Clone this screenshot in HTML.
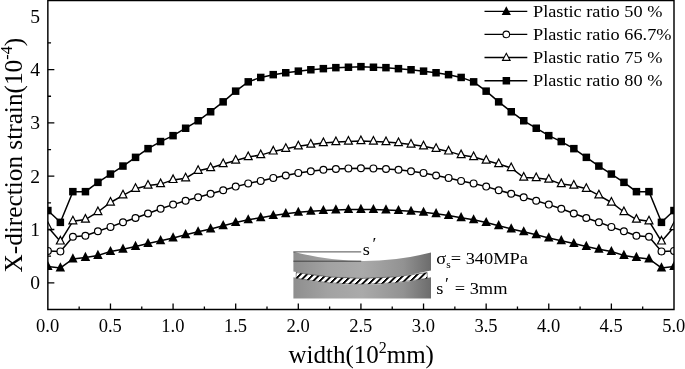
<!DOCTYPE html>
<html><head><meta charset="utf-8"><title>chart</title><style>html,body{margin:0;padding:0;background:#fff}body{width:685px;height:369px;overflow:hidden}</style></head><body>
<svg width="685" height="369" viewBox="0 0 685 369" style="display:block">
<defs><clipPath id="pc"><rect x="47.85" y="0" width="626.15" height="309.5"/></clipPath>
<linearGradient id="gd" x1="0" x2="1" y1="0" y2="0"><stop offset="0" stop-color="#8e8e8e"/><stop offset="0.25" stop-color="#a2a2a2"/><stop offset="0.5" stop-color="#aaaaaa"/><stop offset="0.8" stop-color="#929292"/><stop offset="1" stop-color="#6c6c6c"/></linearGradient>
<pattern id="ht" width="6.5" height="8" patternUnits="userSpaceOnUse" patternTransform="translate(1.5,0) skewX(-45)"><rect width="6.5" height="8" fill="#fff"/><rect width="2.6" height="8" fill="#000"/></pattern>
</defs>
<rect width="685" height="369" fill="#fff"/>
<path d="M293.4 251.7 Q362.3 269.8 431.0 252.6 L431.0 270.4 Q362.3 286.1 293.4 271.5 Z" fill="url(#gd)"/><path d="M293.4 277.3 Q362.3 292.4 431.0 277.3 L431.0 298.5 L293.4 298.5 Z" fill="url(#gd)"/><path d="M296.2 272.6 Q362 284.3 427.2 272.6 L427.2 278.3 Q362 290.3 296.2 278.3 Z" fill="url(#ht)" stroke="#222" stroke-width="0.5"/><path d="M293.4 251.9 H361.2 M293.4 261.2 H361.2" stroke="#3a3a3a" stroke-width="0.9" fill="none"/>
<g clip-path="url(#pc)" stroke="#000" stroke-width="1.5" stroke-linejoin="miter">
<polyline points="47.9,266.6 60.4,267.9 72.9,258.9 85.4,257.4 97.9,255.4 110.5,251.5 123.0,249.2 135.5,246.4 148.0,243.6 160.6,240.7 173.1,237.9 185.6,234.7 198.1,231.8 210.6,228.9 223.2,225.7 235.7,222.5 248.2,219.8 260.7,217.7 273.3,215.5 285.8,213.7 298.3,212.3 310.8,211.3 323.4,210.5 335.9,209.9 348.4,209.6 360.9,209.4 373.4,209.6 386.0,209.9 398.5,210.5 411.0,211.3 423.5,212.3 436.1,213.7 448.6,215.5 461.1,217.7 473.6,219.8 486.2,222.5 498.7,225.7 511.2,228.9 523.7,231.8 536.2,234.7 548.8,237.9 561.3,240.7 573.8,243.6 586.3,246.4 598.9,249.2 611.4,251.5 623.9,255.4 636.4,257.4 649.0,258.9 661.5,267.9 674.0,266.6" fill="none"/>
<path d="M47.9 261.0 L52.6 270.1 L43.1 270.1 Z" fill="#000" stroke="none"/>
<path d="M60.4 262.3 L65.1 271.4 L55.6 271.4 Z" fill="#000" stroke="none"/>
<path d="M72.9 253.3 L77.6 262.4 L68.1 262.4 Z" fill="#000" stroke="none"/>
<path d="M85.4 251.8 L90.2 260.9 L80.7 260.9 Z" fill="#000" stroke="none"/>
<path d="M97.9 249.8 L102.7 258.9 L93.2 258.9 Z" fill="#000" stroke="none"/>
<path d="M110.5 245.9 L115.2 255.0 L105.7 255.0 Z" fill="#000" stroke="none"/>
<path d="M123.0 243.6 L127.7 252.7 L118.2 252.7 Z" fill="#000" stroke="none"/>
<path d="M135.5 240.8 L140.3 249.9 L130.8 249.9 Z" fill="#000" stroke="none"/>
<path d="M148.0 238.0 L152.8 247.1 L143.3 247.1 Z" fill="#000" stroke="none"/>
<path d="M160.6 235.1 L165.3 244.2 L155.8 244.2 Z" fill="#000" stroke="none"/>
<path d="M173.1 232.3 L177.8 241.4 L168.3 241.4 Z" fill="#000" stroke="none"/>
<path d="M185.6 229.1 L190.4 238.2 L180.9 238.2 Z" fill="#000" stroke="none"/>
<path d="M198.1 226.2 L202.9 235.3 L193.4 235.3 Z" fill="#000" stroke="none"/>
<path d="M210.6 223.3 L215.4 232.4 L205.9 232.4 Z" fill="#000" stroke="none"/>
<path d="M223.2 220.1 L227.9 229.2 L218.4 229.2 Z" fill="#000" stroke="none"/>
<path d="M235.7 216.9 L240.4 226.0 L230.9 226.0 Z" fill="#000" stroke="none"/>
<path d="M248.2 214.2 L253.0 223.3 L243.5 223.3 Z" fill="#000" stroke="none"/>
<path d="M260.7 212.1 L265.5 221.2 L256.0 221.2 Z" fill="#000" stroke="none"/>
<path d="M273.3 209.9 L278.0 219.0 L268.5 219.0 Z" fill="#000" stroke="none"/>
<path d="M285.8 208.1 L290.5 217.2 L281.0 217.2 Z" fill="#000" stroke="none"/>
<path d="M298.3 206.7 L303.1 215.8 L293.6 215.8 Z" fill="#000" stroke="none"/>
<path d="M310.8 205.7 L315.6 214.8 L306.1 214.8 Z" fill="#000" stroke="none"/>
<path d="M323.4 204.9 L328.1 214.0 L318.6 214.0 Z" fill="#000" stroke="none"/>
<path d="M335.9 204.3 L340.6 213.4 L331.1 213.4 Z" fill="#000" stroke="none"/>
<path d="M348.4 204.0 L353.2 213.1 L343.7 213.1 Z" fill="#000" stroke="none"/>
<path d="M360.9 203.8 L365.7 212.9 L356.2 212.9 Z" fill="#000" stroke="none"/>
<path d="M373.4 204.0 L378.2 213.1 L368.7 213.1 Z" fill="#000" stroke="none"/>
<path d="M386.0 204.3 L390.7 213.4 L381.2 213.4 Z" fill="#000" stroke="none"/>
<path d="M398.5 204.9 L403.2 214.0 L393.7 214.0 Z" fill="#000" stroke="none"/>
<path d="M411.0 205.7 L415.8 214.8 L406.3 214.8 Z" fill="#000" stroke="none"/>
<path d="M423.5 206.7 L428.3 215.8 L418.8 215.8 Z" fill="#000" stroke="none"/>
<path d="M436.1 208.1 L440.8 217.2 L431.3 217.2 Z" fill="#000" stroke="none"/>
<path d="M448.6 209.9 L453.3 219.0 L443.8 219.0 Z" fill="#000" stroke="none"/>
<path d="M461.1 212.1 L465.9 221.2 L456.4 221.2 Z" fill="#000" stroke="none"/>
<path d="M473.6 214.2 L478.4 223.3 L468.9 223.3 Z" fill="#000" stroke="none"/>
<path d="M486.2 216.9 L490.9 226.0 L481.4 226.0 Z" fill="#000" stroke="none"/>
<path d="M498.7 220.1 L503.4 229.2 L493.9 229.2 Z" fill="#000" stroke="none"/>
<path d="M511.2 223.3 L516.0 232.4 L506.5 232.4 Z" fill="#000" stroke="none"/>
<path d="M523.7 226.2 L528.5 235.3 L519.0 235.3 Z" fill="#000" stroke="none"/>
<path d="M536.2 229.1 L541.0 238.2 L531.5 238.2 Z" fill="#000" stroke="none"/>
<path d="M548.8 232.3 L553.5 241.4 L544.0 241.4 Z" fill="#000" stroke="none"/>
<path d="M561.3 235.1 L566.0 244.2 L556.5 244.2 Z" fill="#000" stroke="none"/>
<path d="M573.8 238.0 L578.6 247.1 L569.1 247.1 Z" fill="#000" stroke="none"/>
<path d="M586.3 240.8 L591.1 249.9 L581.6 249.9 Z" fill="#000" stroke="none"/>
<path d="M598.9 243.6 L603.6 252.7 L594.1 252.7 Z" fill="#000" stroke="none"/>
<path d="M611.4 245.9 L616.1 255.0 L606.6 255.0 Z" fill="#000" stroke="none"/>
<path d="M623.9 249.8 L628.7 258.9 L619.2 258.9 Z" fill="#000" stroke="none"/>
<path d="M636.4 251.8 L641.2 260.9 L631.7 260.9 Z" fill="#000" stroke="none"/>
<path d="M649.0 253.3 L653.7 262.4 L644.2 262.4 Z" fill="#000" stroke="none"/>
<path d="M661.5 262.3 L666.2 271.4 L656.7 271.4 Z" fill="#000" stroke="none"/>
<path d="M674.0 261.0 L678.8 270.1 L669.2 270.1 Z" fill="#000" stroke="none"/>
<polyline points="47.9,250.9 60.4,251.4 72.9,236.7 85.4,235.7 97.9,231.2 110.5,226.9 123.0,222.2 135.5,218.0 148.0,213.5 160.6,208.7 173.1,204.6 185.6,200.7 198.1,197.3 210.6,193.7 223.2,190.2 235.7,186.6 248.2,183.4 260.7,180.9 273.3,177.9 285.8,175.5 298.3,172.9 310.8,171.2 323.4,169.7 335.9,169.0 348.4,168.4 360.9,168.2 373.4,168.4 386.0,169.0 398.5,169.7 411.0,171.2 423.5,172.9 436.1,175.5 448.6,177.9 461.1,180.9 473.6,183.4 486.2,186.6 498.7,190.2 511.2,193.7 523.7,197.3 536.2,200.7 548.8,204.6 561.3,208.7 573.8,213.5 586.3,218.0 598.9,222.2 611.4,226.9 623.9,231.2 636.4,235.7 649.0,236.7 661.5,251.4 674.0,250.9" fill="none"/>
<circle cx="47.9" cy="250.9" r="3.4" fill="#fff" stroke-width="1.2"/>
<circle cx="60.4" cy="251.4" r="3.4" fill="#fff" stroke-width="1.2"/>
<circle cx="72.9" cy="236.7" r="3.4" fill="#fff" stroke-width="1.2"/>
<circle cx="85.4" cy="235.7" r="3.4" fill="#fff" stroke-width="1.2"/>
<circle cx="97.9" cy="231.2" r="3.4" fill="#fff" stroke-width="1.2"/>
<circle cx="110.5" cy="226.9" r="3.4" fill="#fff" stroke-width="1.2"/>
<circle cx="123.0" cy="222.2" r="3.4" fill="#fff" stroke-width="1.2"/>
<circle cx="135.5" cy="218.0" r="3.4" fill="#fff" stroke-width="1.2"/>
<circle cx="148.0" cy="213.5" r="3.4" fill="#fff" stroke-width="1.2"/>
<circle cx="160.6" cy="208.7" r="3.4" fill="#fff" stroke-width="1.2"/>
<circle cx="173.1" cy="204.6" r="3.4" fill="#fff" stroke-width="1.2"/>
<circle cx="185.6" cy="200.7" r="3.4" fill="#fff" stroke-width="1.2"/>
<circle cx="198.1" cy="197.3" r="3.4" fill="#fff" stroke-width="1.2"/>
<circle cx="210.6" cy="193.7" r="3.4" fill="#fff" stroke-width="1.2"/>
<circle cx="223.2" cy="190.2" r="3.4" fill="#fff" stroke-width="1.2"/>
<circle cx="235.7" cy="186.6" r="3.4" fill="#fff" stroke-width="1.2"/>
<circle cx="248.2" cy="183.4" r="3.4" fill="#fff" stroke-width="1.2"/>
<circle cx="260.7" cy="180.9" r="3.4" fill="#fff" stroke-width="1.2"/>
<circle cx="273.3" cy="177.9" r="3.4" fill="#fff" stroke-width="1.2"/>
<circle cx="285.8" cy="175.5" r="3.4" fill="#fff" stroke-width="1.2"/>
<circle cx="298.3" cy="172.9" r="3.4" fill="#fff" stroke-width="1.2"/>
<circle cx="310.8" cy="171.2" r="3.4" fill="#fff" stroke-width="1.2"/>
<circle cx="323.4" cy="169.7" r="3.4" fill="#fff" stroke-width="1.2"/>
<circle cx="335.9" cy="169.0" r="3.4" fill="#fff" stroke-width="1.2"/>
<circle cx="348.4" cy="168.4" r="3.4" fill="#fff" stroke-width="1.2"/>
<circle cx="360.9" cy="168.2" r="3.4" fill="#fff" stroke-width="1.2"/>
<circle cx="373.4" cy="168.4" r="3.4" fill="#fff" stroke-width="1.2"/>
<circle cx="386.0" cy="169.0" r="3.4" fill="#fff" stroke-width="1.2"/>
<circle cx="398.5" cy="169.7" r="3.4" fill="#fff" stroke-width="1.2"/>
<circle cx="411.0" cy="171.2" r="3.4" fill="#fff" stroke-width="1.2"/>
<circle cx="423.5" cy="172.9" r="3.4" fill="#fff" stroke-width="1.2"/>
<circle cx="436.1" cy="175.5" r="3.4" fill="#fff" stroke-width="1.2"/>
<circle cx="448.6" cy="177.9" r="3.4" fill="#fff" stroke-width="1.2"/>
<circle cx="461.1" cy="180.9" r="3.4" fill="#fff" stroke-width="1.2"/>
<circle cx="473.6" cy="183.4" r="3.4" fill="#fff" stroke-width="1.2"/>
<circle cx="486.2" cy="186.6" r="3.4" fill="#fff" stroke-width="1.2"/>
<circle cx="498.7" cy="190.2" r="3.4" fill="#fff" stroke-width="1.2"/>
<circle cx="511.2" cy="193.7" r="3.4" fill="#fff" stroke-width="1.2"/>
<circle cx="523.7" cy="197.3" r="3.4" fill="#fff" stroke-width="1.2"/>
<circle cx="536.2" cy="200.7" r="3.4" fill="#fff" stroke-width="1.2"/>
<circle cx="548.8" cy="204.6" r="3.4" fill="#fff" stroke-width="1.2"/>
<circle cx="561.3" cy="208.7" r="3.4" fill="#fff" stroke-width="1.2"/>
<circle cx="573.8" cy="213.5" r="3.4" fill="#fff" stroke-width="1.2"/>
<circle cx="586.3" cy="218.0" r="3.4" fill="#fff" stroke-width="1.2"/>
<circle cx="598.9" cy="222.2" r="3.4" fill="#fff" stroke-width="1.2"/>
<circle cx="611.4" cy="226.9" r="3.4" fill="#fff" stroke-width="1.2"/>
<circle cx="623.9" cy="231.2" r="3.4" fill="#fff" stroke-width="1.2"/>
<circle cx="636.4" cy="235.7" r="3.4" fill="#fff" stroke-width="1.2"/>
<circle cx="649.0" cy="236.7" r="3.4" fill="#fff" stroke-width="1.2"/>
<circle cx="661.5" cy="251.4" r="3.4" fill="#fff" stroke-width="1.2"/>
<circle cx="674.0" cy="250.9" r="3.4" fill="#fff" stroke-width="1.2"/>
<polyline points="47.9,227.0 60.4,241.4 72.9,221.2 85.4,219.6 97.9,212.0 110.5,202.5 123.0,195.3 135.5,188.7 148.0,185.5 160.6,184.1 173.1,179.9 185.6,178.2 198.1,170.7 210.6,168.0 223.2,164.0 235.7,160.5 248.2,157.0 260.7,155.1 273.3,151.4 285.8,148.7 298.3,146.3 310.8,144.5 323.4,143.0 335.9,142.0 348.4,141.5 360.9,141.0 373.4,141.5 386.0,142.0 398.5,143.0 411.0,144.5 423.5,146.3 436.1,148.7 448.6,151.4 461.1,155.1 473.6,157.0 486.2,160.5 498.7,164.0 511.2,168.0 523.7,177.5 536.2,178.0 548.8,179.5 561.3,184.1 573.8,185.5 586.3,188.7 598.9,195.3 611.4,202.5 623.9,212.0 636.4,219.6 649.0,221.2 661.5,241.4 674.0,227.0" fill="none"/>
<path d="M47.9 222.0 L51.8 229.6 L43.9 229.6 Z" fill="#fff" stroke-width="1.2"/>
<path d="M60.4 236.4 L64.3 244.0 L56.4 244.0 Z" fill="#fff" stroke-width="1.2"/>
<path d="M72.9 216.2 L76.8 223.8 L68.9 223.8 Z" fill="#fff" stroke-width="1.2"/>
<path d="M85.4 214.6 L89.4 222.2 L81.5 222.2 Z" fill="#fff" stroke-width="1.2"/>
<path d="M97.9 207.0 L101.9 214.6 L94.0 214.6 Z" fill="#fff" stroke-width="1.2"/>
<path d="M110.5 197.5 L114.4 205.1 L106.5 205.1 Z" fill="#fff" stroke-width="1.2"/>
<path d="M123.0 190.3 L126.9 197.9 L119.0 197.9 Z" fill="#fff" stroke-width="1.2"/>
<path d="M135.5 183.7 L139.5 191.3 L131.6 191.3 Z" fill="#fff" stroke-width="1.2"/>
<path d="M148.0 180.5 L152.0 188.1 L144.1 188.1 Z" fill="#fff" stroke-width="1.2"/>
<path d="M160.6 179.1 L164.5 186.7 L156.6 186.7 Z" fill="#fff" stroke-width="1.2"/>
<path d="M173.1 174.9 L177.0 182.5 L169.1 182.5 Z" fill="#fff" stroke-width="1.2"/>
<path d="M185.6 173.2 L189.6 180.8 L181.7 180.8 Z" fill="#fff" stroke-width="1.2"/>
<path d="M198.1 165.7 L202.1 173.3 L194.2 173.3 Z" fill="#fff" stroke-width="1.2"/>
<path d="M210.6 163.0 L214.6 170.6 L206.7 170.6 Z" fill="#fff" stroke-width="1.2"/>
<path d="M223.2 159.0 L227.1 166.6 L219.2 166.6 Z" fill="#fff" stroke-width="1.2"/>
<path d="M235.7 155.5 L239.6 163.1 L231.7 163.1 Z" fill="#fff" stroke-width="1.2"/>
<path d="M248.2 152.0 L252.2 159.6 L244.3 159.6 Z" fill="#fff" stroke-width="1.2"/>
<path d="M260.7 150.1 L264.7 157.7 L256.8 157.7 Z" fill="#fff" stroke-width="1.2"/>
<path d="M273.3 146.4 L277.2 154.0 L269.3 154.0 Z" fill="#fff" stroke-width="1.2"/>
<path d="M285.8 143.7 L289.7 151.3 L281.8 151.3 Z" fill="#fff" stroke-width="1.2"/>
<path d="M298.3 141.3 L302.3 148.9 L294.4 148.9 Z" fill="#fff" stroke-width="1.2"/>
<path d="M310.8 139.5 L314.8 147.1 L306.9 147.1 Z" fill="#fff" stroke-width="1.2"/>
<path d="M323.4 138.0 L327.3 145.6 L319.4 145.6 Z" fill="#fff" stroke-width="1.2"/>
<path d="M335.9 137.0 L339.8 144.6 L331.9 144.6 Z" fill="#fff" stroke-width="1.2"/>
<path d="M348.4 136.5 L352.4 144.1 L344.5 144.1 Z" fill="#fff" stroke-width="1.2"/>
<path d="M360.9 136.0 L364.9 143.6 L357.0 143.6 Z" fill="#fff" stroke-width="1.2"/>
<path d="M373.4 136.5 L377.4 144.1 L369.5 144.1 Z" fill="#fff" stroke-width="1.2"/>
<path d="M386.0 137.0 L389.9 144.6 L382.0 144.6 Z" fill="#fff" stroke-width="1.2"/>
<path d="M398.5 138.0 L402.4 145.6 L394.5 145.6 Z" fill="#fff" stroke-width="1.2"/>
<path d="M411.0 139.5 L415.0 147.1 L407.1 147.1 Z" fill="#fff" stroke-width="1.2"/>
<path d="M423.5 141.3 L427.5 148.9 L419.6 148.9 Z" fill="#fff" stroke-width="1.2"/>
<path d="M436.1 143.7 L440.0 151.3 L432.1 151.3 Z" fill="#fff" stroke-width="1.2"/>
<path d="M448.6 146.4 L452.5 154.0 L444.6 154.0 Z" fill="#fff" stroke-width="1.2"/>
<path d="M461.1 150.1 L465.1 157.7 L457.2 157.7 Z" fill="#fff" stroke-width="1.2"/>
<path d="M473.6 152.0 L477.6 159.6 L469.7 159.6 Z" fill="#fff" stroke-width="1.2"/>
<path d="M486.2 155.5 L490.1 163.1 L482.2 163.1 Z" fill="#fff" stroke-width="1.2"/>
<path d="M498.7 159.0 L502.6 166.6 L494.7 166.6 Z" fill="#fff" stroke-width="1.2"/>
<path d="M511.2 163.0 L515.2 170.6 L507.3 170.6 Z" fill="#fff" stroke-width="1.2"/>
<path d="M523.7 172.5 L527.7 180.1 L519.8 180.1 Z" fill="#fff" stroke-width="1.2"/>
<path d="M536.2 173.0 L540.2 180.6 L532.3 180.6 Z" fill="#fff" stroke-width="1.2"/>
<path d="M548.8 174.5 L552.7 182.1 L544.8 182.1 Z" fill="#fff" stroke-width="1.2"/>
<path d="M561.3 179.1 L565.2 186.7 L557.3 186.7 Z" fill="#fff" stroke-width="1.2"/>
<path d="M573.8 180.5 L577.8 188.1 L569.9 188.1 Z" fill="#fff" stroke-width="1.2"/>
<path d="M586.3 183.7 L590.3 191.3 L582.4 191.3 Z" fill="#fff" stroke-width="1.2"/>
<path d="M598.9 190.3 L602.8 197.9 L594.9 197.9 Z" fill="#fff" stroke-width="1.2"/>
<path d="M611.4 197.5 L615.3 205.1 L607.4 205.1 Z" fill="#fff" stroke-width="1.2"/>
<path d="M623.9 207.0 L627.9 214.6 L620.0 214.6 Z" fill="#fff" stroke-width="1.2"/>
<path d="M636.4 214.6 L640.4 222.2 L632.5 222.2 Z" fill="#fff" stroke-width="1.2"/>
<path d="M649.0 216.2 L652.9 223.8 L645.0 223.8 Z" fill="#fff" stroke-width="1.2"/>
<path d="M661.5 236.4 L665.4 244.0 L657.5 244.0 Z" fill="#fff" stroke-width="1.2"/>
<path d="M674.0 222.0 L678.0 229.6 L670.0 229.6 Z" fill="#fff" stroke-width="1.2"/>
<polyline points="47.9,210.5 60.4,222.3 72.9,191.7 85.4,191.7 97.9,182.4 110.5,174.1 123.0,166.1 135.5,157.4 148.0,148.7 160.6,141.6 173.1,135.7 185.6,128.2 198.1,120.8 210.6,111.7 223.2,101.9 235.7,91.2 248.2,81.9 260.7,77.4 273.3,74.7 285.8,72.8 298.3,71.2 310.8,69.7 323.4,68.7 335.9,67.7 348.4,67.2 360.9,66.7 373.4,67.2 386.0,67.7 398.5,68.7 411.0,69.7 423.5,71.2 436.1,72.8 448.6,74.7 461.1,77.4 473.6,81.9 486.2,91.2 498.7,101.9 511.2,111.7 523.7,120.8 536.2,128.2 548.8,135.7 561.3,141.6 573.8,148.7 586.3,157.4 598.9,166.1 611.4,174.1 623.9,182.4 636.4,191.7 649.0,191.7 661.5,222.3 674.0,210.5" fill="none"/>
<rect x="44.1" y="206.8" width="7.5" height="7.5" fill="#000" stroke="none"/>
<rect x="56.6" y="218.6" width="7.5" height="7.5" fill="#000" stroke="none"/>
<rect x="69.1" y="187.9" width="7.5" height="7.5" fill="#000" stroke="none"/>
<rect x="81.7" y="187.9" width="7.5" height="7.5" fill="#000" stroke="none"/>
<rect x="94.2" y="178.6" width="7.5" height="7.5" fill="#000" stroke="none"/>
<rect x="106.7" y="170.3" width="7.5" height="7.5" fill="#000" stroke="none"/>
<rect x="119.2" y="162.3" width="7.5" height="7.5" fill="#000" stroke="none"/>
<rect x="131.8" y="153.6" width="7.5" height="7.5" fill="#000" stroke="none"/>
<rect x="144.3" y="144.9" width="7.5" height="7.5" fill="#000" stroke="none"/>
<rect x="156.8" y="137.8" width="7.5" height="7.5" fill="#000" stroke="none"/>
<rect x="169.3" y="131.9" width="7.5" height="7.5" fill="#000" stroke="none"/>
<rect x="181.9" y="124.5" width="7.5" height="7.5" fill="#000" stroke="none"/>
<rect x="194.4" y="117.0" width="7.5" height="7.5" fill="#000" stroke="none"/>
<rect x="206.9" y="108.0" width="7.5" height="7.5" fill="#000" stroke="none"/>
<rect x="219.4" y="98.1" width="7.5" height="7.5" fill="#000" stroke="none"/>
<rect x="231.9" y="87.4" width="7.5" height="7.5" fill="#000" stroke="none"/>
<rect x="244.5" y="78.1" width="7.5" height="7.5" fill="#000" stroke="none"/>
<rect x="257.0" y="73.7" width="7.5" height="7.5" fill="#000" stroke="none"/>
<rect x="269.5" y="70.9" width="7.5" height="7.5" fill="#000" stroke="none"/>
<rect x="282.0" y="69.0" width="7.5" height="7.5" fill="#000" stroke="none"/>
<rect x="294.6" y="67.4" width="7.5" height="7.5" fill="#000" stroke="none"/>
<rect x="307.1" y="66.0" width="7.5" height="7.5" fill="#000" stroke="none"/>
<rect x="319.6" y="64.9" width="7.5" height="7.5" fill="#000" stroke="none"/>
<rect x="332.1" y="63.9" width="7.5" height="7.5" fill="#000" stroke="none"/>
<rect x="344.7" y="63.5" width="7.5" height="7.5" fill="#000" stroke="none"/>
<rect x="357.2" y="62.9" width="7.5" height="7.5" fill="#000" stroke="none"/>
<rect x="369.7" y="63.5" width="7.5" height="7.5" fill="#000" stroke="none"/>
<rect x="382.2" y="63.9" width="7.5" height="7.5" fill="#000" stroke="none"/>
<rect x="394.7" y="64.9" width="7.5" height="7.5" fill="#000" stroke="none"/>
<rect x="407.3" y="66.0" width="7.5" height="7.5" fill="#000" stroke="none"/>
<rect x="419.8" y="67.4" width="7.5" height="7.5" fill="#000" stroke="none"/>
<rect x="432.3" y="69.0" width="7.5" height="7.5" fill="#000" stroke="none"/>
<rect x="444.8" y="70.9" width="7.5" height="7.5" fill="#000" stroke="none"/>
<rect x="457.4" y="73.7" width="7.5" height="7.5" fill="#000" stroke="none"/>
<rect x="469.9" y="78.1" width="7.5" height="7.5" fill="#000" stroke="none"/>
<rect x="482.4" y="87.4" width="7.5" height="7.5" fill="#000" stroke="none"/>
<rect x="494.9" y="98.1" width="7.5" height="7.5" fill="#000" stroke="none"/>
<rect x="507.5" y="108.0" width="7.5" height="7.5" fill="#000" stroke="none"/>
<rect x="520.0" y="117.0" width="7.5" height="7.5" fill="#000" stroke="none"/>
<rect x="532.5" y="124.5" width="7.5" height="7.5" fill="#000" stroke="none"/>
<rect x="545.0" y="131.9" width="7.5" height="7.5" fill="#000" stroke="none"/>
<rect x="557.5" y="137.8" width="7.5" height="7.5" fill="#000" stroke="none"/>
<rect x="570.1" y="144.9" width="7.5" height="7.5" fill="#000" stroke="none"/>
<rect x="582.6" y="153.6" width="7.5" height="7.5" fill="#000" stroke="none"/>
<rect x="595.1" y="162.3" width="7.5" height="7.5" fill="#000" stroke="none"/>
<rect x="607.6" y="170.3" width="7.5" height="7.5" fill="#000" stroke="none"/>
<rect x="620.2" y="178.6" width="7.5" height="7.5" fill="#000" stroke="none"/>
<rect x="632.7" y="187.9" width="7.5" height="7.5" fill="#000" stroke="none"/>
<rect x="645.2" y="187.9" width="7.5" height="7.5" fill="#000" stroke="none"/>
<rect x="657.7" y="218.6" width="7.5" height="7.5" fill="#000" stroke="none"/>
<rect x="670.2" y="206.8" width="7.5" height="7.5" fill="#000" stroke="none"/>
</g>
<g stroke="#000" stroke-width="1.45" fill="none">
<path d="M47.85 0 V309.5 H674 V0 M47.85 0.4 H674" />
</g>
<g stroke="#000" stroke-width="1.3" fill="none">
<path d="M47.85 282.80 h6.5 M47.85 256.15 h3.2 M47.85 229.50 h6.5 M47.85 202.85 h3.2 M47.85 176.20 h6.5 M47.85 149.55 h3.2 M47.85 122.90 h6.5 M47.85 96.25 h3.2 M47.85 69.60 h6.5 M47.85 42.95 h3.2 M79.16 309.5 v-3.0 M110.47 309.5 v-6.0 M141.77 309.5 v-3.0 M173.08 309.5 v-6.0 M204.39 309.5 v-3.0 M235.69 309.5 v-6.0 M267.00 309.5 v-3.0 M298.31 309.5 v-6.0 M329.62 309.5 v-3.0 M360.93 309.5 v-6.0 M392.23 309.5 v-3.0 M423.54 309.5 v-6.0 M454.85 309.5 v-3.0 M486.16 309.5 v-6.0 M517.46 309.5 v-3.0 M548.77 309.5 v-6.0 M580.08 309.5 v-3.0 M611.38 309.5 v-6.0 M642.69 309.5 v-3.0 "/>
</g>
<g font-family="'Liberation Serif',serif" fill="#000">
<text transform="translate(47.65,331.70)" font-size="18.5" text-anchor="middle">0.0</text>
<text transform="translate(110.27,331.70)" font-size="18.5" text-anchor="middle">0.5</text>
<text transform="translate(172.88,331.70)" font-size="18.5" text-anchor="middle">1.0</text>
<text transform="translate(235.50,331.70)" font-size="18.5" text-anchor="middle">1.5</text>
<text transform="translate(298.11,331.70)" font-size="18.5" text-anchor="middle">2.0</text>
<text transform="translate(360.73,331.70)" font-size="18.5" text-anchor="middle">2.5</text>
<text transform="translate(423.34,331.70)" font-size="18.5" text-anchor="middle">3.0</text>
<text transform="translate(485.96,331.70)" font-size="18.5" text-anchor="middle">3.5</text>
<text transform="translate(548.57,331.70)" font-size="18.5" text-anchor="middle">4.0</text>
<text transform="translate(611.18,331.70)" font-size="18.5" text-anchor="middle">4.5</text>
<text transform="translate(673.80,331.70)" font-size="18.5" text-anchor="middle">5.0</text>
<text transform="translate(40.00,289.10) scale(1.060,1)" font-size="18.5" text-anchor="end">0</text>
<text transform="translate(40.00,235.80) scale(1.060,1)" font-size="18.5" text-anchor="end">1</text>
<text transform="translate(40.00,182.50) scale(1.060,1)" font-size="18.5" text-anchor="end">2</text>
<text transform="translate(40.00,129.20) scale(1.060,1)" font-size="18.5" text-anchor="end">3</text>
<text transform="translate(40.00,75.90) scale(1.060,1)" font-size="18.5" text-anchor="end">4</text>
<text transform="translate(40.00,22.60) scale(1.060,1)" font-size="18.5" text-anchor="end">5</text>
<text transform="translate(361.20,362.80)" font-size="25" text-anchor="middle">width(10<tspan font-size="16" dy="-10.2">2</tspan><tspan dy="10.2">mm)</tspan></text>
<text transform="translate(21.80,155.20) rotate(-90) scale(1.012,1)" font-size="25" text-anchor="middle">X-direction strain(10<tspan font-size="16" dy="-10.2">-4</tspan><tspan dy="10.2">)</tspan></text>
<path d="M484.5 11.4 H527.3" stroke="#000" stroke-width="1.4"/>
<path d="M506.3 6.2 L510.9 15.0 L501.7 15.0 Z" fill="#000"/>
<text transform="translate(533.00,17.00) scale(1.045,1)" font-size="17.5" text-anchor="start">Plastic ratio 50 %</text>
<path d="M484.5 34.4 H527.3" stroke="#000" stroke-width="1.4"/>
<circle cx="506.3" cy="34.4" r="3.3" fill="#fff" stroke="#000" stroke-width="1.1"/>
<text transform="translate(533.00,40.00) scale(1.045,1)" font-size="17.5" text-anchor="start">Plastic ratio 66.7%</text>
<path d="M484.5 57.5 H527.3" stroke="#000" stroke-width="1.4"/>
<path d="M506.3 53.3 L510.1 60.4 L502.5 60.4 Z" fill="#fff" stroke="#000" stroke-width="1.1"/>
<text transform="translate(533.00,63.10) scale(1.045,1)" font-size="17.5" text-anchor="start">Plastic ratio 75 %</text>
<path d="M484.5 80.8 H527.3" stroke="#000" stroke-width="1.4"/>
<rect x="502.6" y="77.0" width="7.5" height="7.5" fill="#000"/>
<text transform="translate(533.00,86.40) scale(1.045,1)" font-size="17.5" text-anchor="start">Plastic ratio 80 %</text>
<text transform="translate(436.30,263.60) scale(1.050,1)" font-size="17.5" text-anchor="start">σ<tspan font-size="11" dy="4.6">s</tspan><tspan dy="-4.6">= 340MPa</tspan></text>
<text transform="translate(436.30,293.90) scale(1.050,1)" font-size="17.5" text-anchor="start">s<tspan font-size="17" dy="-5" dx="1.5">′</tspan><tspan dy="5" dx="5.5">= 3mm</tspan></text>
<text transform="translate(362.80,254.60) scale(1.040,1)" font-size="17.5" text-anchor="start">s<tspan font-size="17" dy="-6" dx="2.5">′</tspan></text>
</g>
</svg>
</body></html>
